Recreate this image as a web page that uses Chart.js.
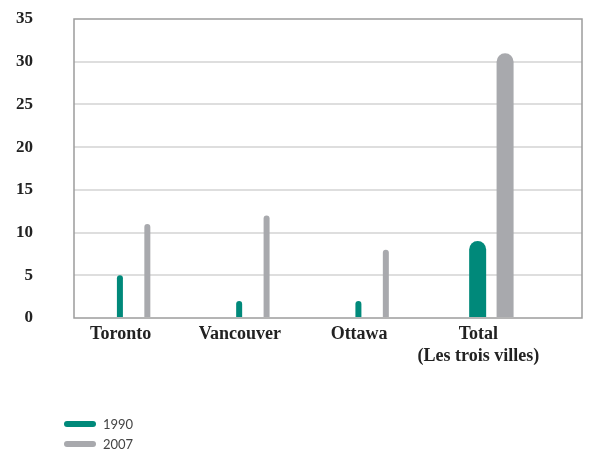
<!DOCTYPE html>
<html lang="fr">
<head>
<meta charset="UTF-8">
<title>1990 / 2007</title>
<script src="https://cdn.jsdelivr.net/npm/chart.js"></script>
<style>
  body { margin: 0; background: #fff; }
  #wrap { position: relative; width: 590px; height: 449px; }
  #legend { position: absolute; left: 64px; top: 414px; font-family: Lato, "Open Sans", sans-serif; font-size: 13px; color: #444; }
  #legend div { display: flex; align-items: center; height: 20px; }
  #legend span.sw { display: inline-block; width: 32px; height: 6px; border-radius: 3px; margin-right: 7px; }
</style>
</head>
<body>
<div id="wrap">
  <canvas id="chart" width="590" height="449"></canvas>
  <div id="legend"></div>
</div>
<script>
// data
const categories = ['Toronto', 'Vancouver', 'Ottawa', ['Total', '(Les trois villes)']];
const seriesNames = ['1990', '2007'];
const values1990 = [5, 2, 2, 9];
const values2007 = [11, 12, 8, 31];
const yTicks = [0, 5, 10, 15, 20, 25, 30, 35];

const green = '#00897A';
const grey = '#A8A9AD';

// thin bars for the cities, thick bars for the total
const toPoints = (vals, useTotal) => vals.map((v, i) => ({
    x: i,
    y: (i === categories.length - 1) === useTotal ? v : null
}));

const frame = {
    id: 'frame',
    beforeDatasetsDraw(chart) {
        const a = chart.chartArea;
        const ctx = chart.ctx;
        ctx.save();
        ctx.strokeStyle = '#9c9c9c';
        ctx.lineWidth = 1.5;
        ctx.strokeRect(a.left, a.top, a.right - a.left, a.bottom - a.top);
        ctx.restore();
    }
};

new Chart(document.getElementById('chart'), {
    type: 'bar',
    data: {
        datasets: [
            { label: seriesNames[0], data: toPoints(values1990, false), backgroundColor: green, maxBarThickness: 6 },
            { label: seriesNames[1], data: toPoints(values2007, false), backgroundColor: grey, maxBarThickness: 6 },
            { label: seriesNames[0], data: toPoints(values1990, true), backgroundColor: green, maxBarThickness: 17 },
            { label: seriesNames[1], data: toPoints(values2007, true), backgroundColor: grey, maxBarThickness: 17 }
        ]
    },
    options: {
        responsive: false,
        animation: false,
        layout: { padding: { top: 19, right: 8, left: 0, bottom: 0 } },
        datasets: {
            bar: {
                skipNull: true,
                categoryPercentage: 0.46,
                barPercentage: 1,
                borderRadius: { topLeft: 10, topRight: 10 },
                borderSkipped: 'start'
            }
        },
        plugins: {
            legend: { display: false },
            tooltip: { enabled: false }
        },
        scales: {
            x: {
                type: 'linear',
                offset: false,
                min: -0.5,
                max: 3.76,
                afterBuildTicks: s => { s.ticks = categories.map((c, i) => ({ value: i })); },
                afterFit: s => { s.height = 131; },
                grid: { display: false, drawTicks: false },
                border: { display: false },
                ticks: {
                    autoSkip: false,
                    maxRotation: 0,
                    padding: 5,
                    labelOffset: -13,
                    color: '#222',
                    font: { family: '"Liberation Serif", serif', size: 18, weight: 'bold', lineHeight: 1.25 },
                    callback: v => categories[v]
                }
            },
            y: {
                min: 0,
                max: 35,
                afterBuildTicks: s => { s.ticks = yTicks.map(v => ({ value: v })); },
                afterFit: s => { s.width = 74; },
                grid: {
                    drawTicks: true,
                    tickLength: 41,
                    tickColor: 'rgba(0,0,0,0)',
                    lineWidth: 2,
                    color: c => (c.tick.value === 0 || c.tick.value === 35) ? 'rgba(0,0,0,0)' : '#dedede'
                },
                border: { display: false },
                ticks: {
                    padding: 0,
                    color: '#222',
                    font: { family: '"Liberation Serif", serif', size: 17, weight: 'bold' }
                }
            }
        }
    },
    plugins: [frame]
});

// legend
const legend = document.getElementById('legend');
[green, grey].forEach((col, i) => {
    const row = document.createElement('div');
    row.innerHTML = '<span class="sw" style="background:' + col + '"></span>' + seriesNames[i];
    legend.appendChild(row);
});
</script>
</body>
</html>
